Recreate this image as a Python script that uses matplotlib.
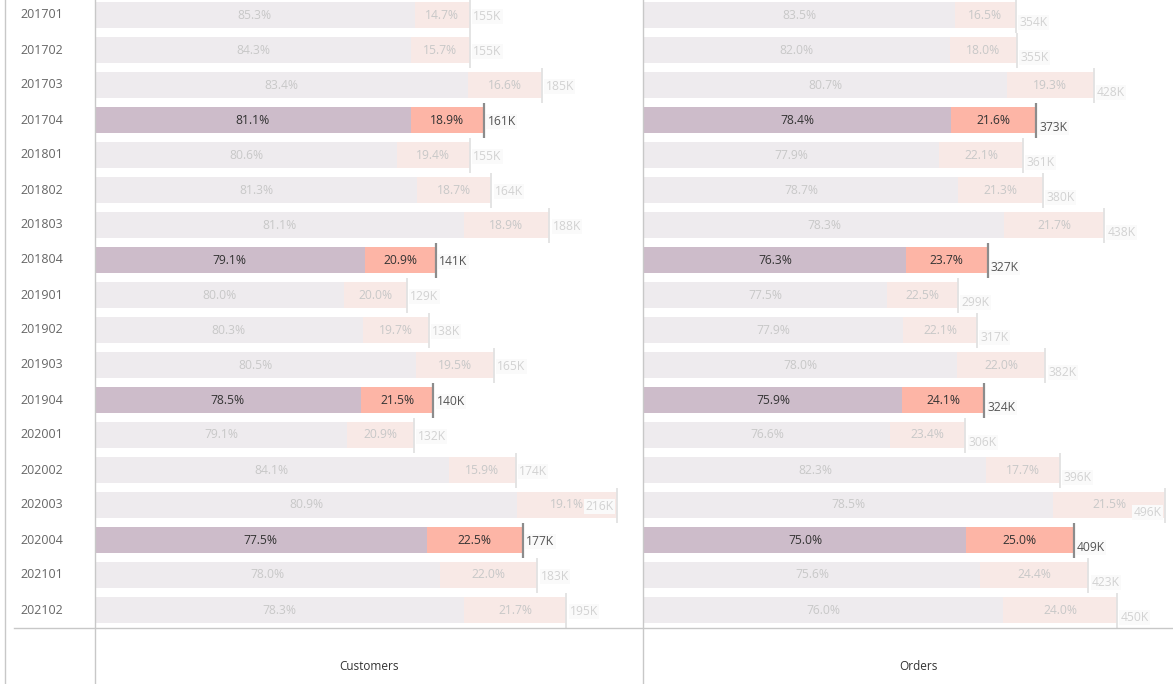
import matplotlib
matplotlib.use('Agg')
import matplotlib.pyplot as plt
from matplotlib.lines import Line2D

plt.rcParams['font.family'] = ['Open Sans', 'DejaVu Sans']

# 数据
periods = ['201701', '201702', '201703', '201704', '201801', '201802', '201803', '201804',
           '201901', '201902', '201903', '201904', '202001', '202002', '202003', '202004',
           '202101', '202102']
highlight = ['201704', '201804', '201904', '202004']

cust_share = [85.3, 84.3, 83.4, 81.1, 80.6, 81.3, 81.1, 79.1, 80.0, 80.3, 80.5, 78.5,
              79.1, 84.1, 80.9, 77.5, 78.0, 78.3]
cust_total = [155, 155, 185, 161, 155, 164, 188, 141, 129, 138, 165, 140,
              132, 174, 216, 177, 183, 195]

order_share = [83.5, 82.0, 80.7, 78.4, 77.9, 78.7, 78.3, 76.3, 77.5, 77.9, 78.0, 75.9,
               76.6, 82.3, 78.5, 75.0, 75.6, 76.0]
order_total = [354, 355, 428, 373, 361, 380, 438, 327, 299, 317, 382, 324,
               306, 396, 496, 409, 423, 450]

W, H = 1173, 684
fig = plt.figure(figsize=(W / 100, H / 100), dpi=100)

# 颜色
c_main = '#cdbcca'
c_rest = '#fdb5a6'
c_main_f = '#eeebee'
c_rest_f = '#f8e9e6'
c_txt = '#333333'
c_txt_f = '#c8c8c8'

row_top, row_bot = -2.5, 627.5


def panel(x0, x1, xmax, shares, totals, label_dy):
    ax = fig.add_axes([x0 / W, (H - row_bot) / H, (x1 - x0) / W, (row_bot - row_top) / H])
    ax.set_xlim(0, xmax)
    ax.set_ylim(len(periods) - 0.5, -0.5)
    ax.axis('off')
    px_per_k = (x1 - x0) / xmax
    for i, p in enumerate(periods):
        hl = p in highlight
        tot = totals[i]
        a = tot * shares[i] / 100
        b = tot - a
        ax.barh(i, a, height=0.74, color=c_main if hl else c_main_f, linewidth=0)
        ax.barh(i, b, left=a, height=0.74, color=c_rest if hl else c_rest_f, linewidth=0)
        tc = c_txt if hl else c_txt_f
        ax.text(a / 2, i, f'{shares[i]:.1f}%', ha='center', va='center', fontsize=8.7, color=tc)
        ax.text(a + b / 2, i, f'{100 - shares[i]:.1f}%', ha='center', va='center',
                fontsize=8.7, color=tc)
        ax.vlines(tot, i - 0.5, i + 0.5, color='#8c8c8c' if hl else '#e2e2e2',
                  linewidth=1.6 if hl else 1.3)
        # 放不下的标签移到线的左边
        inside = tot + 32 / px_per_k > xmax
        ax.annotate(f'{tot}K', (tot, i), xytext=(-2.5 if inside else 2.5, -label_dy),
                    textcoords='offset points',
                    ha='right' if inside else 'left', va='center', fontsize=8.7,
                    color='#555555' if hl else '#d2d2d2', annotation_clip=False,
                    bbox=dict(boxstyle='square,pad=0.1', facecolor='#fafafa', edgecolor='none'))
    return ax


panel(95, 643, 548 / 2.417, cust_share, cust_total, 1)
panel(644, 1173, 529 / 1.0505, order_share, order_total, 5.5)

# 行标签
for i, p in enumerate(periods):
    fig.text(20 / W, 1 - (15 + 35 * i) / H, p, ha='left', va='center', fontsize=9, color='#666666')

# 网格线
gc = '#c8c8c8'
fig.add_artist(Line2D([5 / W, 5 / W], [0, 1], color=gc, linewidth=1))
fig.add_artist(Line2D([95 / W, 95 / W], [0, 1], color=gc, linewidth=1))
fig.add_artist(Line2D([643 / W, 643 / W], [0, 1], color=gc, linewidth=1))
fig.add_artist(Line2D([14 / W, 1], [1 - 628 / H, 1 - 628 / H], color=gc, linewidth=1))

fig.text(369 / W, 1 - 667 / H, 'Customers', ha='center', va='center', fontsize=8.5, color='#333333')
fig.text(918 / W, 1 - 667 / H, 'Orders', ha='center', va='center', fontsize=8.5, color='#333333')

plt.savefig('out.png', dpi=100)
plt.close()
